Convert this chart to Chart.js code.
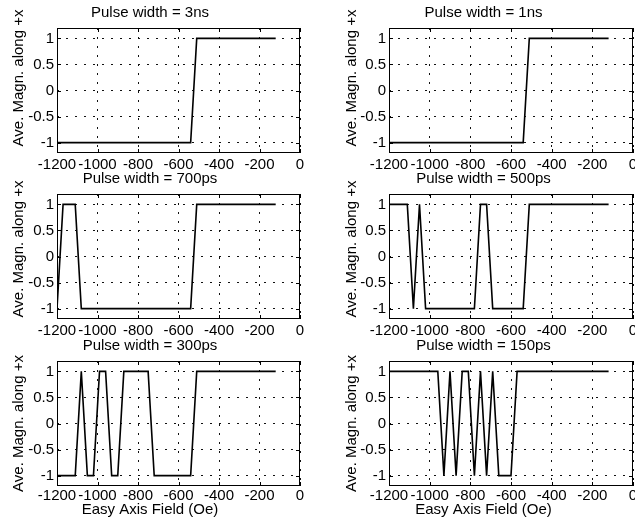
<!DOCTYPE html>
<html><head><meta charset="utf-8">
<script src="https://cdn.jsdelivr.net/npm/chart.js@4.4.1/dist/chart.umd.min.js"></script>
<style>
html,body{margin:0;padding:0;background:#fff;overflow:hidden;width:635px;height:527px;position:relative;}
canvas{position:absolute;}
</style></head><body>
<canvas id="c1"></canvas><canvas id="c2"></canvas>
<canvas id="c3"></canvas><canvas id="c4"></canvas>
<canvas id="c5"></canvas><canvas id="c6"></canvas>
<script>
// ---- data ----
const X_TICKS = [-1200, -1000, -800, -600, -400, -200, 0];
const Y_TICKS = [-1, -0.5, 0, 0.5, 1];
const Y_LABEL = 'Ave. Magn. along +x';
const X_LABEL = 'Easy Axis Field (Oe)';
const TITLES = ['Pulse width = 3ns', 'Pulse width = 1ns', 'Pulse width = 700ps',
                'Pulse width = 500ps', 'Pulse width = 300ps', 'Pulse width = 150ps'];

const FIELD_3NS = [-1200, -540, -510, -120];
const MAG_3NS   = [-1, -1, 1, 1];
const FIELD_1NS = [-1200, -540, -510, -120];
const MAG_1NS   = [-1, -1, 1, 1];
const FIELD_700PS = [-1200, -1170, -1110, -1080, -540, -510, -120];
const MAG_700PS   = [-1, 1, 1, -1, -1, 1, 1];
const FIELD_500PS = [-1200, -1110, -1080, -1050, -1020, -780, -750, -720, -690, -540, -510, -120];
const MAG_500PS   = [1, 1, -1, 1, -1, -1, 1, 1, -1, -1, 1, 1];
const FIELD_300PS = [-1200, -1110, -1080, -1050, -1020, -990, -960, -930, -900, -870, -750, -720, -540, -510, -120];
const MAG_300PS   = [-1, -1, 1, -1, -1, 1, 1, -1, -1, 1, 1, -1, -1, 1, 1];
const FIELD_150PS = [-1200, -960, -930, -900, -870, -840, -810, -780, -750, -720, -690, -660, -600, -570, -120];
const MAG_150PS   = [1, 1, -1, 1, -1, 1, 1, -1, 1, -1, 1, -1, -1, 1, 1];

const SERIES = [
  [FIELD_3NS, MAG_3NS], [FIELD_1NS, MAG_1NS],
  [FIELD_700PS, MAG_700PS], [FIELD_500PS, MAG_500PS],
  [FIELD_300PS, MAG_300PS], [FIELD_150PS, MAG_150PS]
];

// ---- layout ----
const FONT = 'Liberation Sans, Arial, Helvetica, sans-serif';
const COLS = [ {left: 0, width: 375, yw: 57, padR: 75, labPad: 10},
               {left: 334, width: 376, yw: 55, padR: 77, labPad: 9} ];
// rows 1-2: y label via left subtitle; row 3: y label via scale title + x label via bottom subtitle
const ROWS = [ {top: -22, h: 200, xh: 25, titlePad: 26, tickPad: 3, last: false},
               {top: 154, h: 190, xh: 25, titlePad: 16, tickPad: 3, last: false},
               {top: 333, h: 186, xh: 20, titlePad: 4,  tickPad: 1, last: true} ];

const frame = {
  id: 'frame',
  afterDatasetsDraw(chart) {
    const {ctx, chartArea: a, scales: {x, y}} = chart;
    ctx.save();
    ctx.setLineDash([]);
    ctx.strokeStyle = '#000';
    ctx.lineWidth = 1;
    ctx.strokeRect(Math.round(a.left) + 0.5, Math.round(a.top) + 0.5,
                   Math.round(a.right - a.left) - 1, Math.round(a.bottom - a.top) - 1);
    const L = 4;
    ctx.beginPath();
    x.ticks.forEach(t => {
      const px = Math.round(x.getPixelForValue(t.value)) + 0.5;
      ctx.moveTo(px, a.bottom); ctx.lineTo(px, a.bottom - L);
      ctx.moveTo(px, a.top); ctx.lineTo(px, a.top + L);
    });
    y.ticks.forEach(t => {
      const py = Math.round(y.getPixelForValue(t.value)) + 0.5;
      ctx.moveTo(a.left, py); ctx.lineTo(a.left + L, py);
      ctx.moveTo(a.right, py); ctx.lineTo(a.right - L, py);
    });
    ctx.stroke();
    ctx.restore();
  }
};

const txt = (size) => ({family: FONT, size: size, weight: 'normal', lineHeight: 1.2});

for (let i = 0; i < 6; i++) {
  const col = COLS[i % 2], row = ROWS[Math.floor(i / 2)];
  const cv = document.getElementById('c' + (i + 1));
  cv.width = col.width; cv.height = row.h;
  cv.style.left = col.left + 'px'; cv.style.top = row.top + 'px';
  cv.style.width = col.width + 'px'; cv.style.height = row.h + 'px';
  const [xs, ys] = SERIES[i];
  const labBoxW = 18 + col.labPad - 3;
  const subtitle = row.last
    ? { display: true, position: 'bottom', text: X_LABEL, color: '#000', font: txt(15), padding: {top: -5, bottom: 0} }
    : { display: true, position: 'left', text: Y_LABEL, color: '#000', font: txt(15), padding: {top: col.labPad, bottom: -3} };
  const yw = row.last ? col.yw : col.yw - labBoxW;
  new Chart(cv, {
    type: 'line',
    data: { datasets: [{
      data: xs.map((v, k) => ({x: v, y: ys[k]})),
      borderColor: '#000', borderWidth: 1.6, pointRadius: 0, tension: 0, fill: false
    }]},
    plugins: [frame],
    options: {
      responsive: false, animation: false, devicePixelRatio: 1,
      layout: { padding: {left: 0, right: col.padR, top: 0, bottom: 0} },
      plugins: {
        legend: {display: false}, tooltip: {enabled: false},
        title: { display: true, text: TITLES[i], color: '#000', font: txt(15), padding: {top: row.titlePad, bottom: 6} },
        subtitle: subtitle
      },
      scales: {
        x: {
          type: 'linear', min: -1200, max: 0,
          afterBuildTicks: s => { s.ticks = X_TICKS.map(v => ({value: v})); },
          afterFit: s => { s.height = row.xh; },
          ticks: { autoSkip: false, maxRotation: 0, minRotation: 0, padding: row.tickPad, color: '#000',
                   font: txt(15), callback: v => String(v) },
          grid: { color: '#111', lineWidth: 1, drawTicks: false },
          border: { display: false, dash: [2, 7] }
        },
        y: {
          type: 'linear', min: -1.2, max: 1.2,
          afterBuildTicks: s => { s.ticks = Y_TICKS.map(v => ({value: v})); },
          afterFit: s => { s.width = yw; },
          ticks: { padding: 3, color: '#000', font: txt(15), callback: v => String(v) },
          grid: { color: '#111', lineWidth: 1, drawTicks: false },
          border: { display: false, dash: [2, 7] },
          title: { display: row.last, text: Y_LABEL, color: '#000', font: txt(15), padding: {top: col.labPad, bottom: 0} }
        }
      }
    }
  });
}
</script>
</body></html>
